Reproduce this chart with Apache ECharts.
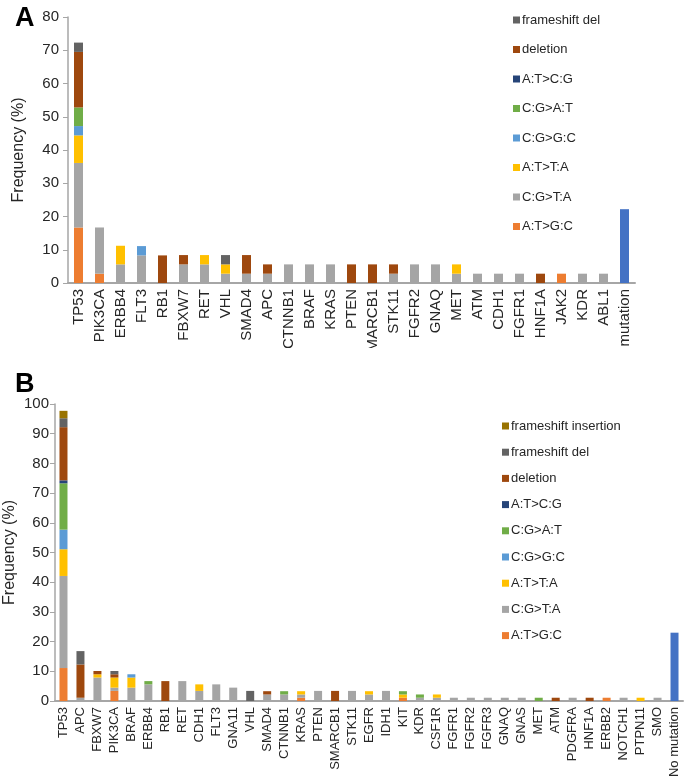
<!DOCTYPE html>
<html>
<head>
<meta charset="utf-8">
<script src="https://cdn.jsdelivr.net/npm/echarts@6/dist/echarts.min.js"></script>
<style>
  html, body { margin: 0; padding: 0; background: #fff; }
  #chartA { width: 685px; height: 348px; }
  #chartB { width: 685px; height: 432px; }
</style>
</head>
<body>
<div id="chartA"></div>
<div id="chartB"></div>
<script>
// ---- panel A data ----
var genesA = ['TP53', 'PIK3CA', 'ERBB4', 'FLT3', 'RB1', 'FBXW7', 'RET', 'VHL', 'SMAD4', 'APC',
  'CTNNB1', 'BRAF', 'KRAS', 'PTEN', 'SMARCB1', 'STK11', 'FGFR2', 'GNAQ', 'MET', 'ATM',
  'CDH1', 'FGFR1', 'HNF1A', 'JAK2', 'KDR', 'ABL1', 'No mutation'];
var atgcA = [16.7, 2.8, 0, 0, 0, 0, 0, 0, 0, 0, 0, 0, 0, 0, 0, 0, 0, 0, 0, 0, 0, 0, 0, 2.8, 0, 0, 0];
var cgtaA = [19.4, 13.9, 5.6, 8.3, 0, 5.6, 5.6, 2.8, 2.8, 2.8, 5.6, 5.6, 5.6, 0, 0, 2.8, 5.6, 5.6, 2.8, 2.8, 2.8, 2.8, 0, 0, 2.8, 2.8, 0];
var attaA = [8.3, 0, 5.6, 0, 0, 0, 2.8, 2.8, 0, 0, 0, 0, 0, 0, 0, 0, 0, 0, 2.8, 0, 0, 0, 0, 0, 0, 0, 0];
var cggcA = [2.8, 0, 0, 2.8, 0, 0, 0, 0, 0, 0, 0, 0, 0, 0, 0, 0, 0, 0, 0, 0, 0, 0, 0, 0, 0, 0, 0];
var cgatA = [5.6, 0, 0, 0, 0, 0, 0, 0, 0, 0, 0, 0, 0, 0, 0, 0, 0, 0, 0, 0, 0, 0, 0, 0, 0, 0, 0];
var atcgA = [0, 0, 0, 0, 0, 0, 0, 0, 0, 0, 0, 0, 0, 0, 0, 0, 0, 0, 0, 0, 0, 0, 0, 0, 0, 0, 0];
var delA = [16.7, 0, 0, 0, 8.3, 2.8, 0, 0, 5.6, 2.8, 0, 0, 0, 5.6, 5.6, 2.8, 0, 0, 0, 0, 0, 0, 2.8, 0, 0, 0, 0];
var fsDelA = [2.8, 0, 0, 0, 0, 0, 0, 2.8, 0, 0, 0, 0, 0, 0, 0, 0, 0, 0, 0, 0, 0, 0, 0, 0, 0, 0, 0];
var noMutA = [0, 0, 0, 0, 0, 0, 0, 0, 0, 0, 0, 0, 0, 0, 0, 0, 0, 0, 0, 0, 0, 0, 0, 0, 0, 0, 22.2];

// ---- panel B data ----
var genesB = ['TP53', 'APC', 'FBXW7', 'PIK3CA', 'BRAF', 'ERBB4', 'RB1', 'RET', 'CDH1', 'FLT3',
  'GNA11', 'VHL', 'SMAD4', 'CTNNB1', 'KRAS', 'PTEN', 'SMARCB1', 'STK11', 'EGFR', 'IDH1',
  'KIT', 'KDR', 'CSF1R', 'FGFR1', 'FGFR2', 'FGFR3', 'GNAQ', 'GNAS', 'MET', 'ATM',
  'PDGFRA', 'HNF1A', 'ERBB2', 'NOTCH1', 'PTPN11', 'SMO', 'No mutation'];
var atgcB = [11.1, 0, 0, 3.4, 0, 0, 0, 0, 0, 0, 0, 0, 0, 0, 1.1, 0, 0, 0, 0, 0, 1.1, 0, 0, 0, 0, 0, 0, 0, 0, 0, 0, 0, 1.1, 0, 0, 0, 0];
var cgtaB = [31.0, 1.1, 7.9, 1.1, 4.5, 5.6, 0, 6.7, 3.4, 5.6, 4.5, 0, 2.2, 2.2, 1.1, 3.4, 0, 3.4, 2.2, 3.4, 0, 1.1, 1.1, 1.1, 1.1, 1.1, 1.1, 1.1, 0, 0, 1.1, 0, 0, 1.1, 0, 1.1, 0];
var attaB = [9.0, 0, 1.1, 3.4, 3.4, 0, 0, 0, 2.2, 0, 0, 0, 0, 0, 1.1, 0, 0, 0, 1.1, 0, 1.1, 0, 1.1, 0, 0, 0, 0, 0, 0, 0, 0, 0, 0, 0, 1.1, 0, 0];
var cggcB = [6.6, 0, 0, 0, 1.1, 0, 0, 0, 0, 0, 0, 0, 0, 0, 0, 0, 0, 0, 0, 0, 0, 0, 0, 0, 0, 0, 0, 0, 0, 0, 0, 0, 0, 0, 0, 0, 0];
var cgatB = [15.6, 0, 0, 0, 0, 1.1, 0, 0, 0, 0, 0, 0, 0, 1.1, 0, 0, 0, 0, 0, 0, 1.1, 1.1, 0, 0, 0, 0, 0, 0, 1.1, 0, 0, 0, 0, 0, 0, 0, 0];
var atcgB = [1.0, 0, 0, 0, 0, 0, 0, 0, 0, 0, 0, 0, 0, 0, 0, 0, 0, 0, 0, 0, 0, 0, 0, 0, 0, 0, 0, 0, 0, 0, 0, 0, 0, 0, 0, 0, 0];
var delB = [17.9, 11.2, 1.1, 1.1, 0, 0, 6.7, 0, 0, 0, 0, 0, 1.1, 0, 0, 0, 3.4, 0, 0, 0, 0, 0, 0, 0, 0, 0, 0, 0, 0, 1.1, 0, 1.1, 0, 0, 0, 0, 0];
var fsDelB = [3.0, 4.5, 0, 1.1, 0, 0, 0, 0, 0, 0, 0, 3.4, 0, 0, 0, 0, 0, 0, 0, 0, 0, 0, 0, 0, 0, 0, 0, 0, 0, 0, 0, 0, 0, 0, 0, 0, 0];
var fsInsB = [2.5, 0, 0, 0, 0, 0, 0, 0, 0, 0, 0, 0, 0, 0, 0, 0, 0, 0, 0, 0, 0, 0, 0, 0, 0, 0, 0, 0, 0, 0, 0, 0, 0, 0, 0, 0, 0];
var noMutB = [0, 0, 0, 0, 0, 0, 0, 0, 0, 0, 0, 0, 0, 0, 0, 0, 0, 0, 0, 0, 0, 0, 0, 0, 0, 0, 0, 0, 0, 0, 0, 0, 0, 0, 0, 0, 23.0];

var FONT = '"Liberation Sans", Arial, sans-serif';
var TXT = '#262626';
var AXIS = '#a6a6a6';
var colors = {
  'A:T>G:C': '#ED7D31',
  'C:G>T:A': '#A5A5A5',
  'A:T>T:A': '#FFC000',
  'C:G>G:C': '#5B9BD5',
  'C:G>A:T': '#70AD47',
  'A:T>C:G': '#264478',
  'deletion': '#9E480E',
  'frameshift del': '#636363',
  'frameshift insertion': '#997300',
  'No mutation': '#4472C4'
};

function makeSeries(list, barWidth) {
  return list.map(function (s) {
    return {
      name: s[0],
      type: 'bar',
      stack: 'total',
      barWidth: barWidth,
      data: s[1],
      itemStyle: { color: colors[s[0]] },
      emphasis: { disabled: true }
    };
  });
}

function makeOption(cfg) {
  return {
    animation: false,
    textStyle: { fontFamily: FONT },
    title: {
      text: cfg.letter, left: 10, top: cfg.titleTop,
      textStyle: { fontFamily: FONT, fontSize: 27, fontWeight: 'bold', color: '#000' }
    },
    legend: {
      orient: 'vertical', left: cfg.legendLeft, top: cfg.legendTop,
      icon: 'rect', itemWidth: 7, itemHeight: 7, itemGap: cfg.legendGap,
      textStyle: { fontFamily: FONT, fontSize: 13, lineHeight: 14, color: TXT, padding: [0, 0, 0, -3] },
      selectedMode: false,
      data: cfg.legendData
    },
    grid: cfg.grid,
    xAxis: {
      type: 'category',
      data: cfg.genes,
      axisLine: { lineStyle: { color: AXIS, width: 2 } },
      axisTick: { show: false },
      axisLabel: { rotate: 90, interval: 0, margin: 6, fontSize: cfg.xFont, color: TXT, fontFamily: FONT }
    },
    yAxis: {
      type: 'value', min: 0, max: cfg.yMax, interval: 10,
      name: 'Frequency (%)', nameLocation: 'middle', nameGap: cfg.nameGap, nameMoveOverlap: false,
      nameTextStyle: { fontSize: 16, color: TXT, fontFamily: FONT },
      axisLine: { show: true, lineStyle: { color: AXIS, width: 1.5 } },
      axisTick: { show: true, length: 5, lineStyle: { color: AXIS } },
      splitLine: { show: false },
      axisLabel: { fontSize: 15, color: TXT, margin: cfg.yMargin, fontFamily: FONT }
    },
    series: cfg.series
  };
}

var chartA = echarts.init(document.getElementById('chartA'));
chartA.setOption(makeOption({
  letter: 'A', titleTop: 0,
  legendLeft: 508, legendTop: 8, legendGap: 15.5,
  legendData: ['frameshift del', 'deletion', 'A:T>C:G', 'C:G>A:T', 'C:G>G:C', 'A:T>T:A', 'C:G>T:A', 'A:T>G:C'],
  grid: { left: 68, top: 17, width: 567, height: 266, outerBoundsMode: 'none', containLabel: false },
  genes: genesA, xFont: 15, yMax: 80, nameGap: 41, yMargin: 9,
  series: makeSeries([
    ['A:T>G:C', atgcA], ['C:G>T:A', cgtaA], ['A:T>T:A', attaA], ['C:G>G:C', cggcA],
    ['C:G>A:T', cgatA], ['A:T>C:G', atcgA], ['deletion', delA], ['frameshift del', fsDelA],
    ['No mutation', noMutA]
  ], 9)
}));

var chartB = echarts.init(document.getElementById('chartB'));
chartB.setOption(makeOption({
  letter: 'B', titleTop: 18,
  legendLeft: 497, legendTop: 66, legendGap: 12.2,
  legendData: ['frameshift insertion', 'frameshift del', 'deletion', 'A:T>C:G', 'C:G>A:T', 'C:G>G:C', 'A:T>T:A', 'C:G>T:A', 'A:T>G:C'],
  grid: { left: 55, top: 56, width: 628, height: 297, outerBoundsMode: 'none', containLabel: false },
  genes: genesB, xFont: 13, yMax: 100, nameGap: 37, yMargin: 6,
  series: makeSeries([
    ['A:T>G:C', atgcB], ['C:G>T:A', cgtaB], ['A:T>T:A', attaB], ['C:G>G:C', cggcB],
    ['C:G>A:T', cgatB], ['A:T>C:G', atcgB], ['deletion', delB], ['frameshift del', fsDelB],
    ['frameshift insertion', fsInsB], ['No mutation', noMutB]
  ], 8)
}));
</script>
</body>
</html>
